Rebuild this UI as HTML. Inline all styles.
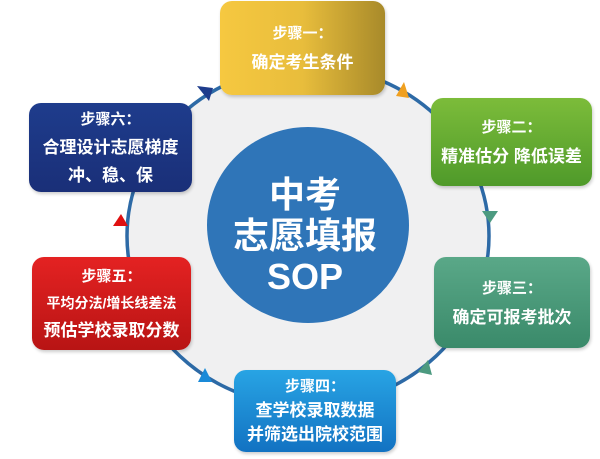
<!DOCTYPE html>
<html><head><meta charset="utf-8"><style>
body{margin:0;width:600px;height:459px;background:#fff;overflow:hidden;position:relative;font-family:"Liberation Sans","Noto Sans CJK SC",sans-serif}
.b{position:absolute;border-radius:12px;color:#fff;font-weight:bold;text-align:center;box-sizing:border-box;box-shadow:1px 2px 3px rgba(0,0,0,.2);display:flex;flex-direction:column;justify-content:center;font-size:17px;line-height:29px}
.b .t{font-size:15px}
</style></head><body>
<svg width="600" height="459" style="position:absolute;left:0;top:0">
<ellipse cx="308" cy="236" rx="181" ry="170" fill="#f0f0f1" stroke="#2d6aa6" stroke-width="3.5"/>
<ellipse cx="308" cy="225" rx="101" ry="98" fill="#2f75b8"/>
<polygon points="197,86 213,88 209,101" fill="#1e3c8c"/>
<polygon points="404,82 409,98 396,96" fill="#f0a020"/>
<polygon points="482,211 498,211 490,223" fill="#4c9a80"/>
<polygon points="113,226 128,226 121,214" fill="#e01010"/>
<polygon points="428,360 432,375 418,372" fill="#4c9a80"/>
<polygon points="205,368 198,382 212,382" fill="#1a8ad8"/>
<text x="305" y="207" fill="#fff" font-size="36" font-weight="bold" text-anchor="middle" font-family="Liberation Sans,Noto Sans CJK SC,sans-serif">中考</text>
<text x="305" y="248" fill="#fff" font-size="36" font-weight="bold" text-anchor="middle" font-family="Liberation Sans,Noto Sans CJK SC,sans-serif">志愿填报</text>
<text x="305" y="289" fill="#fff" font-size="36" font-weight="bold" text-anchor="middle" font-family="Liberation Sans,Noto Sans CJK SC,sans-serif">SOP</text>
</svg>
<div class="b" style="left:220px;top:1px;width:165px;height:94px;background:linear-gradient(90deg,#f6c840,#e8bd3c 50%,#a88a2a)"><div class="t">步骤一：</div><div>确定考生条件</div></div>
<div class="b" style="left:431px;top:98px;width:161px;height:88px;background:linear-gradient(180deg,#7cbc3a,#4f9a2a)"><div class="t">步骤二：</div><div>精准估分 降低误差</div></div>
<div class="b" style="left:434px;top:257px;width:156px;height:91px;background:linear-gradient(180deg,#5aa888,#3a8a6a)"><div class="t">步骤三：</div><div>确定可报考批次</div></div>
<div class="b" style="left:234px;top:370px;width:162px;height:82px;line-height:24px;background:linear-gradient(180deg,#28a4e4,#1272c2)"><div class="t">步骤四：</div><div>查学校录取数据</div><div>并筛选出院校范围</div></div>
<div class="b" style="left:32px;top:257px;width:159px;height:93px;line-height:27px;background:linear-gradient(180deg,#e42222,#b81414)"><div class="t">步骤五：</div><div style="font-size:14px">平均分法/增长线差法</div><div>预估学校录取分数</div></div>
<div class="b" style="left:29px;top:103px;width:163px;height:89px;line-height:28px;background:linear-gradient(180deg,#1e3c8c,#1a2f78)"><div class="t">步骤六：</div><div>合理设计志愿梯度</div><div>冲、稳、保</div></div>
</body></html>
